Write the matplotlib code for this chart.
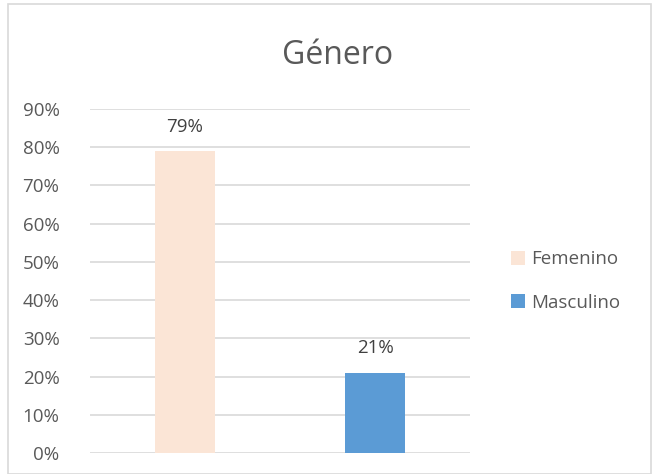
import matplotlib
matplotlib.use("Agg")
import matplotlib.pyplot as plt
from matplotlib.patches import Rectangle, Patch
from matplotlib.ticker import PercentFormatter

# Data
categories = ["Femenino", "Masculino"]
values = [0.79, 0.21]
colors = ["#FBE5D6", "#5B9BD5"]
yticks = [0.0, 0.1, 0.2, 0.3, 0.4, 0.5, 0.6, 0.7, 0.8, 0.9]

plt.rcParams['font.family'] = ['Open Sans', 'DejaVu Sans']

fig = plt.figure(figsize=(6.52, 4.74), dpi=100)
ax = fig.add_axes([90 / 652, 1 - 453 / 474, 380 / 652, 344 / 474])

x = list(range(len(categories)))
bars = ax.bar(x, values, width=0.316, color=colors, zorder=3)
for xi, v in zip(x, values):
    ax.text(xi, v + 0.04, f"{v:.0%}", ha='center', va='bottom',
            fontsize=13.5, color='#404040')

ax.set_xlim(-0.5, 1.5)
ax.set_ylim(0, 0.9)
ax.set_yticks(yticks)
ax.yaxis.set_major_formatter(PercentFormatter(1.0, decimals=0))
ax.set_xticks([])
ax.grid(axis='y', color='#D9D9D9', linewidth=1.2, zorder=0)
for s in ax.spines.values():
    s.set_visible(False)
ax.tick_params(axis='y', length=0, labelsize=13.5, labelcolor='#595959', pad=22)

fig.text(338 / 652, 1 - 55 / 474, "Género", ha='center', va='center',
         fontsize=23, color='#595959')

handles = [Patch(facecolor=c, edgecolor='none') for c in colors]
fig.legend(handles, categories, loc='center left',
           bbox_to_anchor=(494 / 652, 1 - 281 / 474), frameon=False,
           fontsize=13.5, labelcolor='#595959', handlelength=0.75,
           handleheight=0.75, handletextpad=0.35, labelspacing=1.35)

fig.patches.append(Rectangle((8 / 652, 0.0), 643 / 652, 1 - 4 / 474,
                             transform=fig.transFigure, fill=False,
                             edgecolor='#D9D9D9', linewidth=1.2))

fig.savefig("out.png", dpi=100)
